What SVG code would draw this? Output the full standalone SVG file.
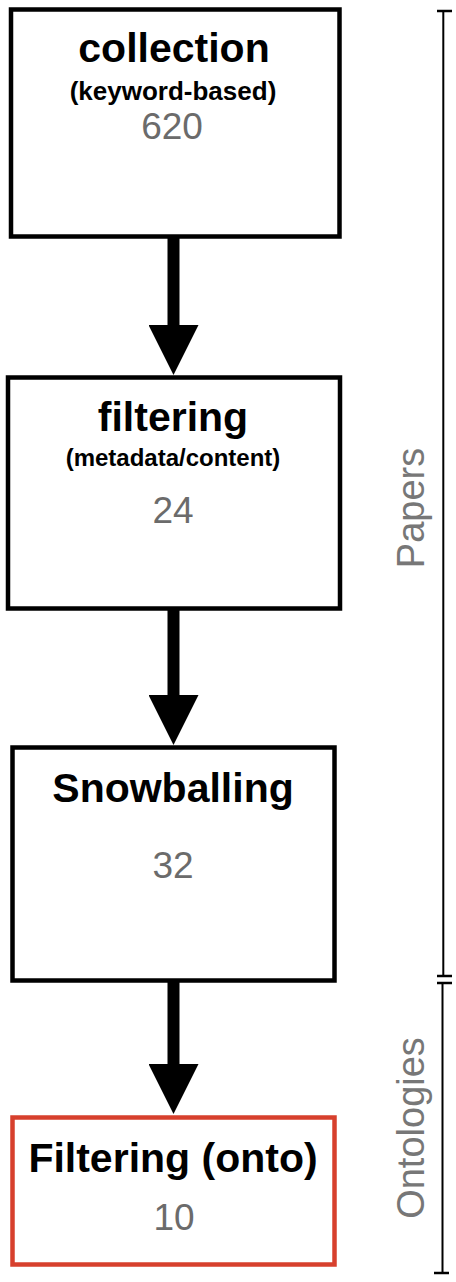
<svg xmlns="http://www.w3.org/2000/svg" width="456" height="1282" viewBox="0 0 456 1282">
<style>
.box{fill:#fff;stroke:#000;stroke-width:4.5}
.red{stroke:#d7402d}
.t{font-family:"Liberation Sans",Arial,Helvetica,sans-serif;text-anchor:middle}
.title{font-size:41px;font-weight:bold;fill:#000}
.sub{font-weight:bold;fill:#000}
.num{font-size:37px;fill:#6b6b6b}
.side{font-size:38px;fill:#777}
.shaft{stroke:#000;stroke-width:12;fill:none}
.br{stroke:#000;stroke-width:2;fill:none}
.cap{stroke:#000;stroke-width:2.5;fill:none}
</style>
<defs>
<marker id="head" markerUnits="userSpaceOnUse" markerWidth="50" markerHeight="50" refX="0" refY="25" orient="auto" viewBox="0 0 50 50">
<path d="M0,0 L50,25 L0,50 Z" fill="#000"/>
</marker>
</defs>
<g id="connectors">
<line class="shaft" x1="173.5" y1="238" x2="173.5" y2="325" marker-end="url(#head)"/>
<line class="shaft" x1="173.5" y1="610" x2="173.5" y2="695" marker-end="url(#head)"/>
<line class="shaft" x1="173.5" y1="982" x2="173.5" y2="1064" marker-end="url(#head)"/>
</g>
<g id="collection">
<rect class="box" x="11" y="9.5" width="328.5" height="227"/>
<text class="t title" x="174" y="62">collection</text>
<text class="t sub" x="173" y="100" font-size="26">(keyword-based)</text>
<text class="t num" x="172" y="139">620</text>
</g>
<g id="filtering">
<rect class="box" x="8" y="377.5" width="332" height="231"/>
<text class="t title" x="173" y="431">filtering</text>
<text class="t sub" x="173" y="466" font-size="24">(metadata/content)</text>
<text class="t num" x="173" y="523">24</text>
</g>
<g id="snowballing">
<rect class="box" x="12.5" y="747.5" width="322" height="233"/>
<text class="t title" x="173" y="802">Snowballing</text>
<text class="t num" x="173" y="878">32</text>
</g>
<g id="filtering-onto">
<rect class="box red" x="12.5" y="1117.5" width="322" height="147"/>
<text class="t title" x="173" y="1172">Filtering (onto)</text>
<text class="t num" x="174" y="1230">10</text>
</g>
<g id="papers-bracket">
<line class="br" x1="443.3" y1="11" x2="443.3" y2="976"/>
<line class="cap" x1="437" y1="11" x2="452" y2="11"/>
<line class="cap" x1="437" y1="976" x2="452" y2="976"/>
<text class="t side" transform="translate(424,508) rotate(-90)">Papers</text>
</g>
<g id="ontologies-bracket">
<line class="br" x1="442.5" y1="983" x2="442.5" y2="1273"/>
<line class="cap" x1="437" y1="983" x2="452" y2="983"/>
<line class="cap" x1="434" y1="1273" x2="449" y2="1273"/>
<text class="t side" transform="translate(424,1128) rotate(-90)" font-size="39">Ontologies</text>
</g>
</svg>
